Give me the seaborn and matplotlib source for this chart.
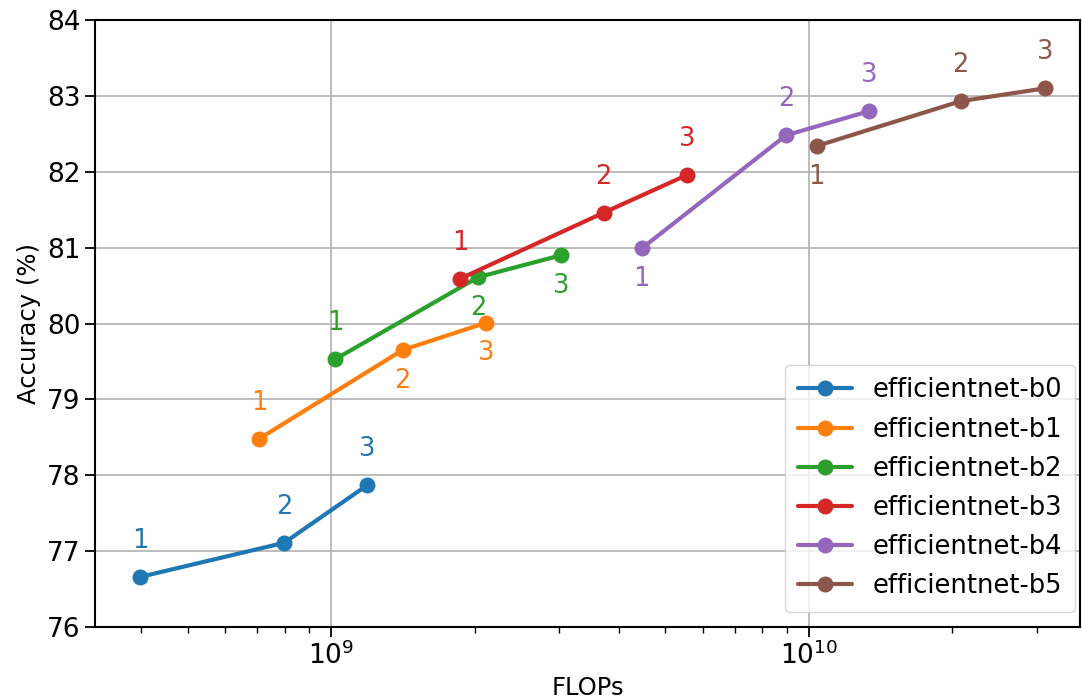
import pandas as pd
import seaborn as sns
import matplotlib.pyplot as plt

# Values
models = ['efficientnet-b0', 'efficientnet-b1', 'efficientnet-b2',
          'efficientnet-b3', 'efficientnet-b4', 'efficientnet-b5']
flops_b0 = [0.398e9, 0.797e9, 1.19e9]
flops_b1 = [0.706e9, 1.41e9, 2.11e9]
flops_b2 = [1.02e9, 2.03e9, 3.03e9]
flops_b3 = [1.86e9, 3.72e9, 5.57e9]
flops_b4 = [4.47e9, 8.96e9, 13.4e9]
flops_b5 = [10.4e9, 20.8e9, 31.3e9]
acc_b0 = [76.66, 77.11, 77.87]
acc_b1 = [78.48, 79.65, 80.01]
acc_b2 = [79.53, 80.61, 80.90]
acc_b3 = [80.59, 81.46, 81.96]
acc_b4 = [80.99, 82.48, 82.80]
acc_b5 = [82.34, 82.93, 83.10]
steps = ['1', '2', '3']
# whether each step label sits above (True) or below (False) its point
label_above = {
    'efficientnet-b0': [True, True, True],
    'efficientnet-b1': [True, False, False],
    'efficientnet-b2': [True, False, False],
    'efficientnet-b3': [True, True, True],
    'efficientnet-b4': [False, True, True],
    'efficientnet-b5': [False, True, True],
}

flops = [flops_b0, flops_b1, flops_b2, flops_b3, flops_b4, flops_b5]
accs = [acc_b0, acc_b1, acc_b2, acc_b3, acc_b4, acc_b5]

rows = []
for m, fx, ay in zip(models, flops, accs):
    for s, f, a in zip(steps, fx, ay):
        rows.append({'model': m, 'step': s, 'FLOPs': f, 'Accuracy': a})
df = pd.DataFrame(rows)

sns.set_style("ticks")
plt.rcParams['font.family'] = ['DejaVu Sans']
plt.rcParams['text.color'] = 'black'
plt.rcParams['axes.labelcolor'] = 'black'
plt.rcParams['xtick.color'] = 'black'
plt.rcParams['ytick.color'] = 'black'
plt.rcParams['axes.edgecolor'] = 'black'

fig = plt.figure(figsize=(10.82, 7.0), dpi=100)
ax = fig.add_axes([95 / 1082, 1 - 627 / 700, (1080 - 95) / 1082, (627 - 20) / 700])

palette = sns.color_palette('tab10', len(models))
sns.lineplot(data=df, x='FLOPs', y='Accuracy', hue='model', hue_order=models,
             palette=palette, marker='o', markersize=11.5, markeredgewidth=0,
             linewidth=3, sort=False, ax=ax)

# step labels next to each point
for color, m in zip(palette, models):
    sub = df[df['model'] == m]
    for (_, r), up in zip(sub.iterrows(), label_above[m]):
        ax.annotate(r['step'], (r['FLOPs'], r['Accuracy']),
                    xytext=(0, 26 if up else -22), textcoords='offset points',
                    ha='center', va='center', fontsize=18.5, color=color)

ax.set_xscale('log')
ax.set_xlim(3.2e8, 3.7e10)
ax.set_ylim(76, 84)
ax.grid(True, which='major', color='#b0b0b0', linewidth=1.2)
ax.tick_params(axis='both', which='major', labelsize=19, length=7, width=1.3)
ax.tick_params(axis='x', which='minor', length=4.5, width=1.0)
for sp in ax.spines.values():
    sp.set_linewidth(1.5)
ax.set_xlabel('FLOPs', fontsize=17.5)
ax.set_ylabel('Accuracy (%)', fontsize=17.5)

ax.legend(loc='lower right', bbox_to_anchor=(0.995, 0.025), borderaxespad=0,
          fontsize=18.5, handlelength=2.1, borderpad=0.5,
          labelspacing=0.51, frameon=True)

fig.savefig('out.png', dpi=100)
